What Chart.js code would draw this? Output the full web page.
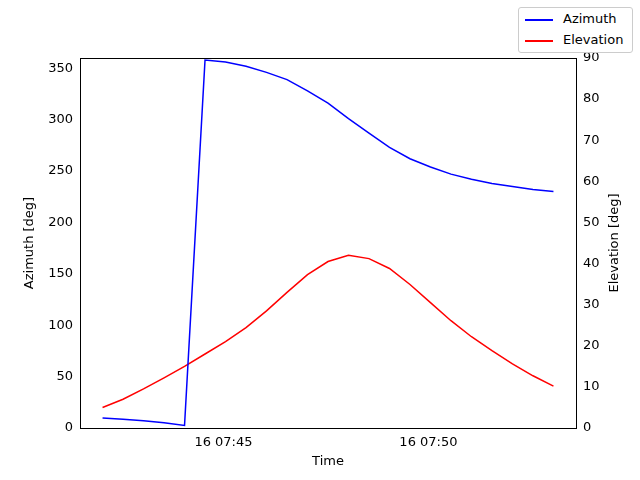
<!DOCTYPE html>
<html><head><meta charset="utf-8">
<script src="https://cdn.jsdelivr.net/npm/chart.js@4/dist/chart.umd.min.js"></script>
<style>
body{margin:0;background:#fff;font-family:"DejaVu Sans";}
#wrap{position:relative;width:640px;height:480px;}
#leg{position:absolute;left:518px;top:7px;width:115px;height:46px;border:1px solid #ccc;border-radius:3px;background:#fff;font-size:13px;box-sizing:border-box;}
.it{position:absolute;left:6px;height:16px;line-height:16px;}
.ln{display:inline-block;width:28px;height:0;border-top:2px solid;vertical-align:middle;margin-right:10px;}
</style></head><body>
<div id="wrap"><canvas id="c" width="640" height="480"></canvas>
<div id="leg"><div class="it" style="top:3px"><span class="ln" style="border-color:#0000ff"></span>Azimuth</div><div class="it" style="top:24px"><span class="ln" style="border-color:#ff0000"></span>Elevation</div></div></div>
<script>
const startMinute = 42.05;
const stepMinute = 0.5;
const azimuth = [9.8,8.5,7,5,2.5,358,356,352,346,339,328,316,301,287,273,262,254,247,242,238,235,232,230];
const elevation = [5,7,9.5,12.2,15,18,21,24.4,28.5,33,37.3,40.5,42,41.2,38.8,34.9,30.5,26.1,22.2,18.8,15.6,12.7,10.2];
const xTicks = [45,50];
const times = azimuth.map((_,i)=>startMinute+i*stepMinute);
const fnt={family:"DejaVu Sans",size:13};
new Chart(document.getElementById('c'),{
type:'line',
data:{datasets:[
{label:'Azimuth',data:times.map((t,i)=>({x:t,y:azimuth[i]})),borderColor:'#0000ff',borderWidth:1.5,pointRadius:0,yAxisID:'y',tension:0},
{label:'Elevation',data:times.map((t,i)=>({x:t,y:elevation[i]})),borderColor:'#ff0000',borderWidth:1.5,pointRadius:0,yAxisID:'y1',tension:0}]},
options:{responsive:false,animation:false,
layout:{padding:{top:58,left:0,right:0,bottom:0}},
plugins:{legend:{display:false},tooltip:{enabled:false}},
scales:{
x:{type:'linear',min:41.5,max:53.6,afterBuildTicks:a=>{a.ticks=xTicks.map(v=>({value:v}));},
 afterFit:a=>{a.height=52;},
 grid:{display:false,drawTicks:true,tickLength:4,tickColor:'#000'},border:{color:'#000'},
 ticks:{color:'#000',font:fnt,maxRotation:0,callback:v=>'16 07:'+v}},
y:{position:'left',min:0,max:360,afterBuildTicks:a=>{a.ticks=[0,50,100,150,200,250,300,350].map(v=>({value:v}));},
 afterFit:a=>{a.width=80;},
 grid:{display:false,tickLength:4,tickColor:'#000'},border:{color:'#000'},
 ticks:{color:'#000',font:fnt}},
y1:{position:'right',min:0,max:90,afterBuildTicks:a=>{a.ticks=[0,10,20,30,40,50,60,70,80,90].map(v=>({value:v}));},
 afterFit:a=>{a.width=64;},
 grid:{display:false,tickLength:4,tickColor:'#000'},border:{color:'#000'},
 ticks:{color:'#000',font:fnt}}
}},
plugins:[{id:'box',afterDraw(c){const a=c.chartArea,x=c.ctx;x.save();x.strokeStyle='#000';x.lineWidth=1;x.strokeRect(a.left+0.5,a.top+0.5,a.right-a.left,a.bottom-a.top);
x.fillStyle='#000';x.font='13px "DejaVu Sans"';x.textAlign='center';x.textBaseline='middle';
x.fillText('Time',(a.left+a.right)/2,462);
const cy=(a.top+a.bottom)/2;
x.save();x.translate(30,cy);x.rotate(-Math.PI/2);x.fillText('Azimuth [deg]',0,0);x.restore();
x.save();x.translate(615,cy);x.rotate(-Math.PI/2);x.fillText('Elevation [deg]',0,0);x.restore();
x.restore();}}]
});
</script></body></html>
